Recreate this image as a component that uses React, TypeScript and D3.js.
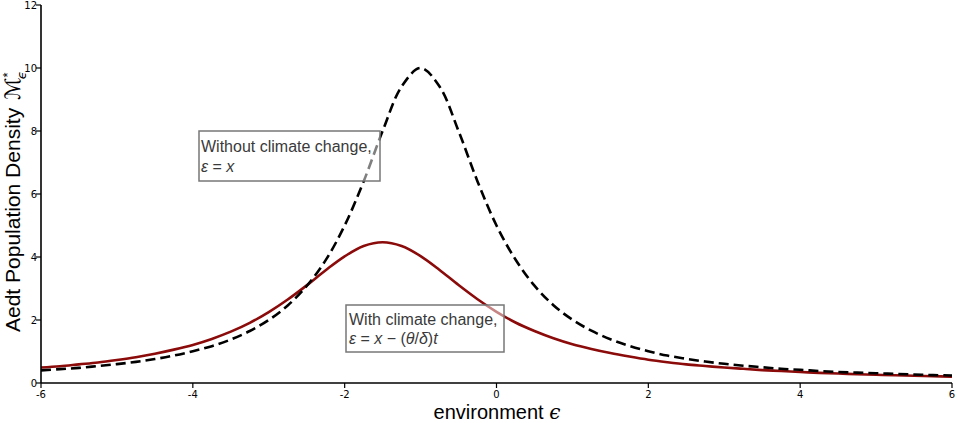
import React, { useEffect } from 'react';
import * as d3 from 'd3';

const xs = [-6, -5.75, -5.5, -5.25, -5, -4.75, -4.5, -4.25, -4, -3.75, -3.5, -3.25, -3, -2.75, -2.5, -2.25, -2, -1.75, -1.5, -1.25, -1, -0.75, -0.5, -0.25, 0, 0.25, 0.5, 0.75, 1, 1.25, 1.5, 1.75, 2, 2.25, 2.5, 2.75, 3, 3.25, 3.5, 3.75, 4, 4.25, 4.5, 4.75, 5, 5.25, 5.5, 5.75, 6];

const withoutClimate = [0.40, 0.44, 0.48, 0.54, 0.60, 0.67, 0.76, 0.87, 1.01, 1.17, 1.38, 1.65, 2.00, 2.46, 3.08, 3.90, 5.00, 6.40, 8.00, 9.41, 10.0, 9.41, 8.00, 6.40, 5.00, 3.92, 3.09, 2.47, 2.01, 1.66, 1.39, 1.18, 1.01, 0.87, 0.77, 0.68, 0.61, 0.55, 0.50, 0.45, 0.42, 0.38, 0.35, 0.33, 0.31, 0.29, 0.27, 0.25, 0.24];

const withClimate = [0.49, 0.53, 0.59, 0.65, 0.73, 0.82, 0.93, 1.06, 1.21, 1.40, 1.63, 1.91, 2.25, 2.65, 3.10, 3.58, 4.02, 4.35, 4.47, 4.35, 4.03, 3.59, 3.11, 2.66, 2.26, 1.92, 1.65, 1.42, 1.23, 1.08, 0.95, 0.84, 0.74, 0.66, 0.59, 0.54, 0.49, 0.45, 0.41, 0.38, 0.35, 0.32, 0.30, 0.28, 0.26, 0.245, 0.23, 0.215, 0.20];

const xTicks = [-6, -4, -2, 0, 2, 4, 6];
const yTicks = [0, 2, 4, 6, 8, 10, 12];

const W = 957;
const H = 423;

export default function App() {
  useEffect(() => {
    document.body.style.margin = '0';
  }, []);

  const x = d3.scaleLinear().domain([-6, 6]).range([41, 952]);
  const y = d3.scaleLinear().domain([0, 12]).range([383, 5]);

  const line = d3
    .line<number>()
    .x((_, i) => x(xs[i]))
    .y((d) => y(d))
    .curve(d3.curveCatmullRom.alpha(0.5));

  const tickFont = "'DejaVu Sans', sans-serif";
  const textFont = "'Liberation Sans', Arial, sans-serif";

  return (
    <svg width={W} height={H} style={{ display: 'block' }}>
      <rect x={0} y={0} width={W} height={H} fill="#fff" />
      {/* curves */}
      <path d={line(withClimate) || ''} fill="none" stroke="#8b0a0a" strokeWidth={2.6} />
      <path d={line(withoutClimate) || ''} fill="none" stroke="#000" strokeWidth={2.6} strokeDasharray="10,5" />

      {/* axes */}
      <line x1={x(-6)} x2={x(6)} y1={y(0)} y2={y(0)} stroke="#000" strokeWidth={1.6} />
      <line x1={x(-6)} x2={x(-6)} y1={y(0)} y2={y(12)} stroke="#000" strokeWidth={1.6} />
      {yTicks.map((t) => (
        <g key={'y' + t}>
          <line x1={x(-6) - 5} x2={x(-6)} y1={y(t)} y2={y(t)} stroke="#000" strokeWidth={1.2} />
          <text x={x(-6) - 4} y={y(t) + 3.5} textAnchor="end" fontSize={10} fontFamily={tickFont} fill="#000">
            {t}
          </text>
        </g>
      ))}
      {xTicks.map((t) => (
        <g key={'x' + t}>
          <line x1={x(t)} x2={x(t)} y1={y(0)} y2={y(0) + 5} stroke="#000" strokeWidth={1.2} />
          <text x={x(t)} y={y(0) + 15} textAnchor="middle" fontSize={10} fontFamily={tickFont} fill="#000">
            {t < 0 ? '-' + Math.abs(t) : String(t)}
          </text>
        </g>
      ))}

      {/* axis titles */}
      <text transform="translate(20,332) rotate(-90)" fontSize={21} fontFamily={textFont} fill="#000">
        Aedt Population Density
        <tspan dx={8} fontFamily="'DejaVu Sans', sans-serif" fontStyle="italic">ℳ</tspan>
        <tspan dy={-8} fontSize={13}>*</tspan>
        <tspan dx={-7} dy={14} fontSize={13} fontStyle="italic" fontFamily="'DejaVu Sans', sans-serif">ϵ</tspan>
      </text>
      <text x={497} y={419} textAnchor="middle" fontSize={20} fontFamily={textFont} fill="#000">
        environment <tspan fontFamily="'DejaVu Serif', serif" fontStyle="italic">ϵ</tspan>
      </text>

      {/* annotation boxes */}
      <rect x={199} y={131} width={181} height={50} fill="#fff" fillOpacity={0.5} stroke="#777" strokeWidth={1.5} />
      <text x={201} y={152} fontSize={16} fontFamily={textFont} fill="#3a3a3a">Without climate change,</text>
      <text x={201} y={172} fontSize={16} fontFamily={textFont} fill="#3a3a3a">
        <tspan fontStyle="italic">ε</tspan> = <tspan fontStyle="italic">x</tspan>
      </text>

      <rect x={346} y={305} width={158} height={47} fill="#fff" fillOpacity={0.5} stroke="#777" strokeWidth={1.5} />
      <text x={349} y={325} fontSize={16} fontFamily={textFont} fill="#3a3a3a">With climate change,</text>
      <text x={349} y={344} fontSize={16} fontFamily={textFont} fill="#3a3a3a">
        <tspan fontStyle="italic">ε</tspan> = <tspan fontStyle="italic">x</tspan> − (<tspan fontStyle="italic">θ</tspan>/<tspan fontStyle="italic">δ</tspan>)<tspan fontStyle="italic">t</tspan>
      </text>
    </svg>
  );
}
